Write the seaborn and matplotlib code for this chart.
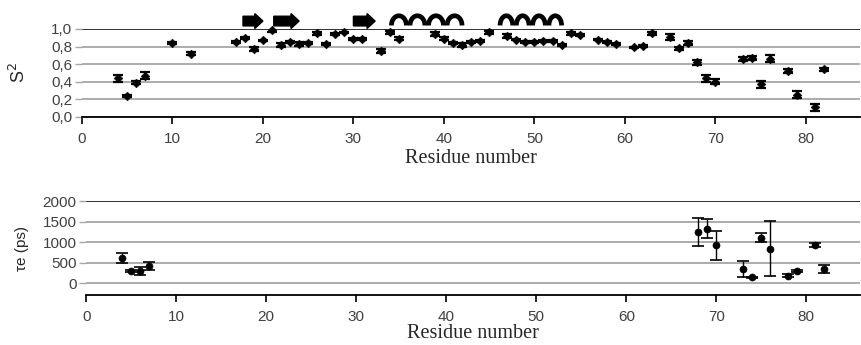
import numpy as np
import matplotlib
matplotlib.use("Agg")
import matplotlib.pyplot as plt
import seaborn as sns
from matplotlib.patches import FancyArrow
import pandas as pd

# order parameter S2 per residue
res_s2 = [4, 5, 6, 7, 10, 12, 17, 18, 19, 20, 21, 22, 23, 24, 25, 26, 27, 28, 29, 30,
          31, 33, 34, 35, 39, 40, 41, 42, 43, 44, 45, 47, 48, 49, 50, 51, 52, 53, 54, 55,
          57, 58, 59, 61, 62, 63, 65, 66, 67, 68, 69, 70, 73, 74, 75, 76, 78, 79, 81, 82]
s2 = [0.44, 0.24, 0.39, 0.47, 0.84, 0.72, 0.85, 0.90, 0.77, 0.87, 0.99, 0.82, 0.85, 0.83, 0.84, 0.95, 0.83, 0.94, 0.96, 0.89,
      0.89, 0.75, 0.96, 0.89, 0.94, 0.89, 0.84, 0.82, 0.85, 0.86, 0.96, 0.92, 0.88, 0.85, 0.85, 0.86, 0.86, 0.82, 0.95, 0.93,
      0.88, 0.85, 0.83, 0.79, 0.81, 0.95, 0.91, 0.78, 0.84, 0.62, 0.44, 0.40, 0.66, 0.67, 0.37, 0.66, 0.52, 0.25, 0.11, 0.54]
s2_err = [0.04, 0.01, 0.02, 0.04, 0.01, 0.02, 0.01, 0.01, 0.02, 0.01, 0.02, 0.02, 0.01, 0.02, 0.01, 0.02, 0.01, 0.01, 0.01, 0.01,
          0.01, 0.02, 0.02, 0.02, 0.02, 0.02, 0.01, 0.02, 0.01, 0.01, 0.02, 0.02, 0.01, 0.01, 0.01, 0.01, 0.01, 0.01, 0.02, 0.01,
          0.01, 0.01, 0.01, 0.01, 0.01, 0.02, 0.03, 0.02, 0.02, 0.03, 0.04, 0.03, 0.02, 0.02, 0.04, 0.04, 0.02, 0.04, 0.04, 0.02]

# internal correlation time tau_e (ps)
res_te = [4, 5, 6, 7, 68, 69, 70, 73, 74, 75, 76, 78, 79, 81, 82]
te = [610, 300, 300, 420, 1240, 1330, 920, 350, 140, 1110, 840, 180, 300, 930, 340]
te_err = [120, 30, 100, 100, 340, 230, 360, 190, 20, 110, 670, 40, 30, 50, 100]

# secondary structure (residue ranges)
strands = [(17.8, 20.0), (21.2, 24.0), (30.0, 32.4)]
helices = [(34.0, 42.2), (46.0, 53.2)]

sns.set_style("white")
plt.rcParams["font.family"] = ["Liberation Sans", "DejaVu Sans"]

fig = plt.figure(figsize=(8.62, 3.45), dpi=100)
ax1 = fig.add_axes([0.095, 0.661, 0.903, 0.255])
ax2 = fig.add_axes([0.1, 0.145, 0.898, 0.272])

df1 = pd.DataFrame({"res": res_s2, "s2": s2, "err": s2_err})
df2 = pd.DataFrame({"res": res_te, "te": te, "err": te_err})

grid_c = "#a6a6a6"
tick_c = "#404040"


def style_axis(ax, ticks, top, pad):
    for y in ticks[:-1]:
        ax.axhline(y, color=grid_c, lw=1.3, zorder=0)
    ax.axhline(top, color="#202020", lw=1.3, zorder=0)
    for s in ["top", "right", "left"]:
        ax.spines[s].set_visible(False)
    ax.spines["bottom"].set_color("black")
    ax.spines["bottom"].set_linewidth(1.3)
    ax.set_xlim(0, 86)
    ax.set_xticks(range(0, 90, 10))
    ax.tick_params(axis="x", direction="out", length=5, width=1.2, color="black",
                   labelsize=11, labelcolor=tick_c, bottom=True, pad=6)
    ax.tick_params(axis="y", direction="out", length=5, width=1, color=grid_c,
                   labelsize=11, labelcolor=tick_c, left=True, pad=2)
    ax.set_xlabel("Residue number", family=["Liberation Serif"], fontsize=14.5, labelpad=pad)


# top panel: S2
ax1.errorbar(df1["res"], df1["s2"], yerr=df1["err"], fmt="none", ecolor="black",
             elinewidth=1.2, capsize=3.8, capthick=1.6, zorder=2)
sns.scatterplot(data=df1, x="res", y="s2", ax=ax1, marker="D", s=20, color="black",
                edgecolor="black", zorder=3, clip_on=False)
s2_ticks = [0.0, 0.2, 0.4, 0.6, 0.8, 1.0]
style_axis(ax1, s2_ticks, 1.0, 2)
ax1.set_ylim(0, 1.0)
ax1.set_yticks(s2_ticks)
ax1.set_yticklabels([f"{t:.1f}".replace(".", ",") for t in s2_ticks])
ax1.set_ylabel("S$^2$", fontsize=13, labelpad=16)

# secondary structure elements above the top panel
trans = ax1.transData
for x0, x1 in strands:
    a = FancyArrow(x0, 1.09, x1 - x0, 0, width=0.11, head_width=0.17,
                   head_length=0.9, length_includes_head=True, color="black",
                   clip_on=False, transform=trans)
    ax1.add_patch(a)
for x0, x1 in helices:
    n = 4
    w = (x1 - x0) / n
    xs = x0 + w / 2 + w * np.arange(n)
    t = np.linspace(0, np.pi, 40)
    for xc in xs:
        ax1.plot(xc + (w / 2 - 0.2) * np.cos(t), 1.04 + 0.11 * np.sin(t),
                 color="black", lw=3.4, clip_on=False, solid_capstyle="butt")

# bottom panel: tau_e
ax2.errorbar(df2["res"], df2["te"], yerr=df2["err"], fmt="none", ecolor="black",
             elinewidth=1.0, capsize=4.5, capthick=1.2, zorder=2)
sns.scatterplot(data=df2, x="res", y="te", ax=ax2, marker="o", s=26, color="black",
                edgecolor="black", zorder=3)
te_ticks = [0, 500, 1000, 1500, 2000]
style_axis(ax2, te_ticks, 2000, 0)
ax2.set_ylim(-290, 2000)
ax2.set_yticks(te_ticks)
ax2.set_ylabel("\u03c4e (ps)", fontsize=11, labelpad=10)

fig.savefig("out.png", dpi=100)
